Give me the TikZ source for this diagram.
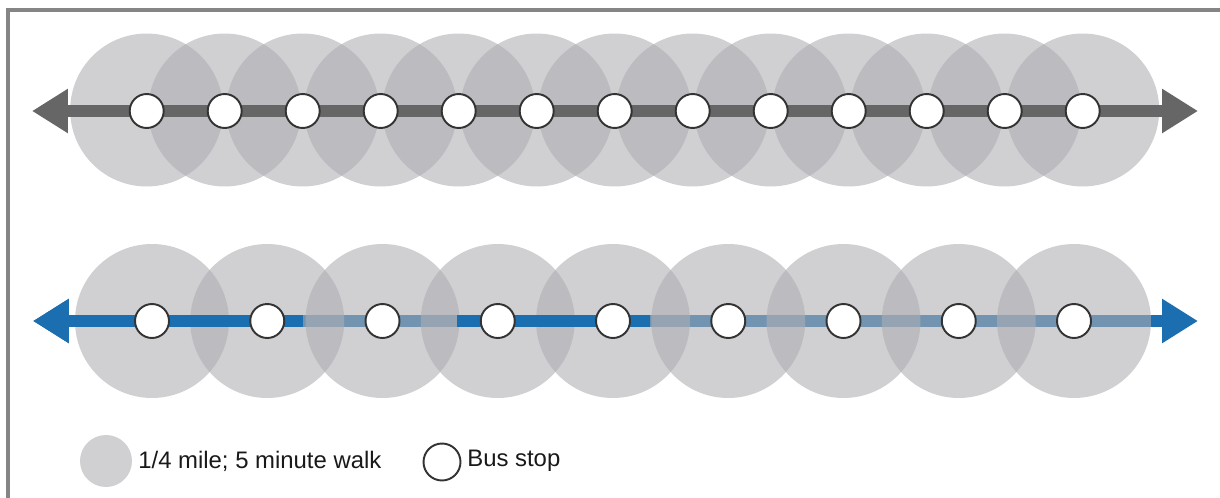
\documentclass[tikz,border=0pt]{standalone}
\usepackage{fontspec}
\setmainfont{Liberation Sans}
\usetikzlibrary{arrows.meta}

\definecolor{walkgray}{HTML}{AFAFB3}
\definecolor{routegray}{HTML}{666666}
\definecolor{routeblue}{HTML}{1B6FB0}
\definecolor{framegray}{HTML}{858585}

\tikzset{
  busstop/.style={circle, draw=black!80, fill=white, line width=1.1pt, minimum size=0.68cm, inner sep=0pt},
  walk/.style={fill=walkgray, fill opacity=0.59},
  route/.style={line width=0.23cm},
  tipboth/.style={{Triangle[length=0.72cm,width=0.84cm]}-{Triangle[length=0.72cm,width=0.84cm]}},
  tipleft/.style={{Triangle[length=0.72cm,width=0.84cm]}-},
  legendtext/.style={anchor=west, inner sep=0pt, text=black!90, font=\fontsize{13.6}{16}\selectfont}
}

\begin{document}
\begin{tikzpicture}[x=0.02cm, y=-0.02cm]

\useasboundingbox (0,0) rectangle (1220,497);
\draw[framegray, line width=0.07cm] (8,10) rectangle (1232,510);

% top route
\fill[walk] (146.7,110) circle (1.53cm);
\fill[walk] (224.7,110) circle (1.53cm);
\fill[walk] (302.7,110) circle (1.53cm);
\fill[walk] (380.7,110) circle (1.53cm);
\fill[walk] (458.7,110) circle (1.53cm);
\fill[walk] (536.7,110) circle (1.53cm);
\fill[walk] (614.7,110) circle (1.53cm);
\fill[walk] (692.7,110) circle (1.53cm);
\fill[walk] (770.7,110) circle (1.53cm);
\fill[walk] (848.7,110) circle (1.53cm);
\fill[walk] (926.7,110) circle (1.53cm);
\fill[walk] (1004.7,110) circle (1.53cm);
\fill[walk] (1082.7,110) circle (1.53cm);

\coordinate (aw) at (32,111);
\coordinate (ae) at (1198,111);
\draw[route, tipboth, routegray] (aw) -- (ae);

\node[busstop] (a1) at (146.7,111) {};
\node[busstop] (a2) at (224.7,111) {};
\node[busstop] (a3) at (302.7,111) {};
\node[busstop] (a4) at (380.7,111) {};
\node[busstop] (a5) at (458.7,111) {};
\node[busstop] (a6) at (536.7,111) {};
\node[busstop] (a7) at (614.7,111) {};
\node[busstop] (a8) at (692.7,111) {};
\node[busstop] (a9) at (770.7,111) {};
\node[busstop] (a10) at (848.7,111) {};
\node[busstop] (a11) at (926.7,111) {};
\node[busstop] (a12) at (1004.7,111) {};
\node[busstop] (a13) at (1082.7,111) {};

% bottom route
\coordinate (bw) at (33,321);
\coordinate (be) at (1198,321);
\coordinate (bd1) at (303,321);
\coordinate (bd2) at (457,321);
\coordinate (bd3) at (650,321);
\draw[route, tipboth, routeblue] (bw) -- (be);

\fill[walk] (152,321) circle (1.54cm);
\fill[walk] (267.25,321) circle (1.54cm);
\fill[walk] (382.5,321) circle (1.54cm);
\fill[walk] (497.75,321) circle (1.54cm);
\fill[walk] (613,321) circle (1.54cm);
\fill[walk] (728.25,321) circle (1.54cm);
\fill[walk] (843.5,321) circle (1.54cm);
\fill[walk] (958.75,321) circle (1.54cm);
\fill[walk] (1074,321) circle (1.54cm);

\draw[route, tipleft, routeblue] (bw) -- (bd1);
\draw[route, routeblue] (bd2) -- (bd3);

\node[busstop] (b1) at (152,321) {};
\node[busstop] (b2) at (267.25,321) {};
\node[busstop] (b3) at (382.5,321) {};
\node[busstop] (b4) at (497.75,321) {};
\node[busstop] (b5) at (613,321) {};
\node[busstop] (b6) at (728.25,321) {};
\node[busstop] (b7) at (843.5,321) {};
\node[busstop] (b8) at (958.75,321) {};
\node[busstop] (b9) at (1074,321) {};

% legend
\fill[walk] (106,461) circle (0.52cm);
\node[legendtext] (walktext) at (138,461) {1/4 mile; 5 minute walk};
\node[busstop, minimum size=0.74cm] (stopkey) at (442,462) {};
\node[legendtext] (stoptext) at (467,461) {Bus stop};

\end{tikzpicture}
\end{document}
